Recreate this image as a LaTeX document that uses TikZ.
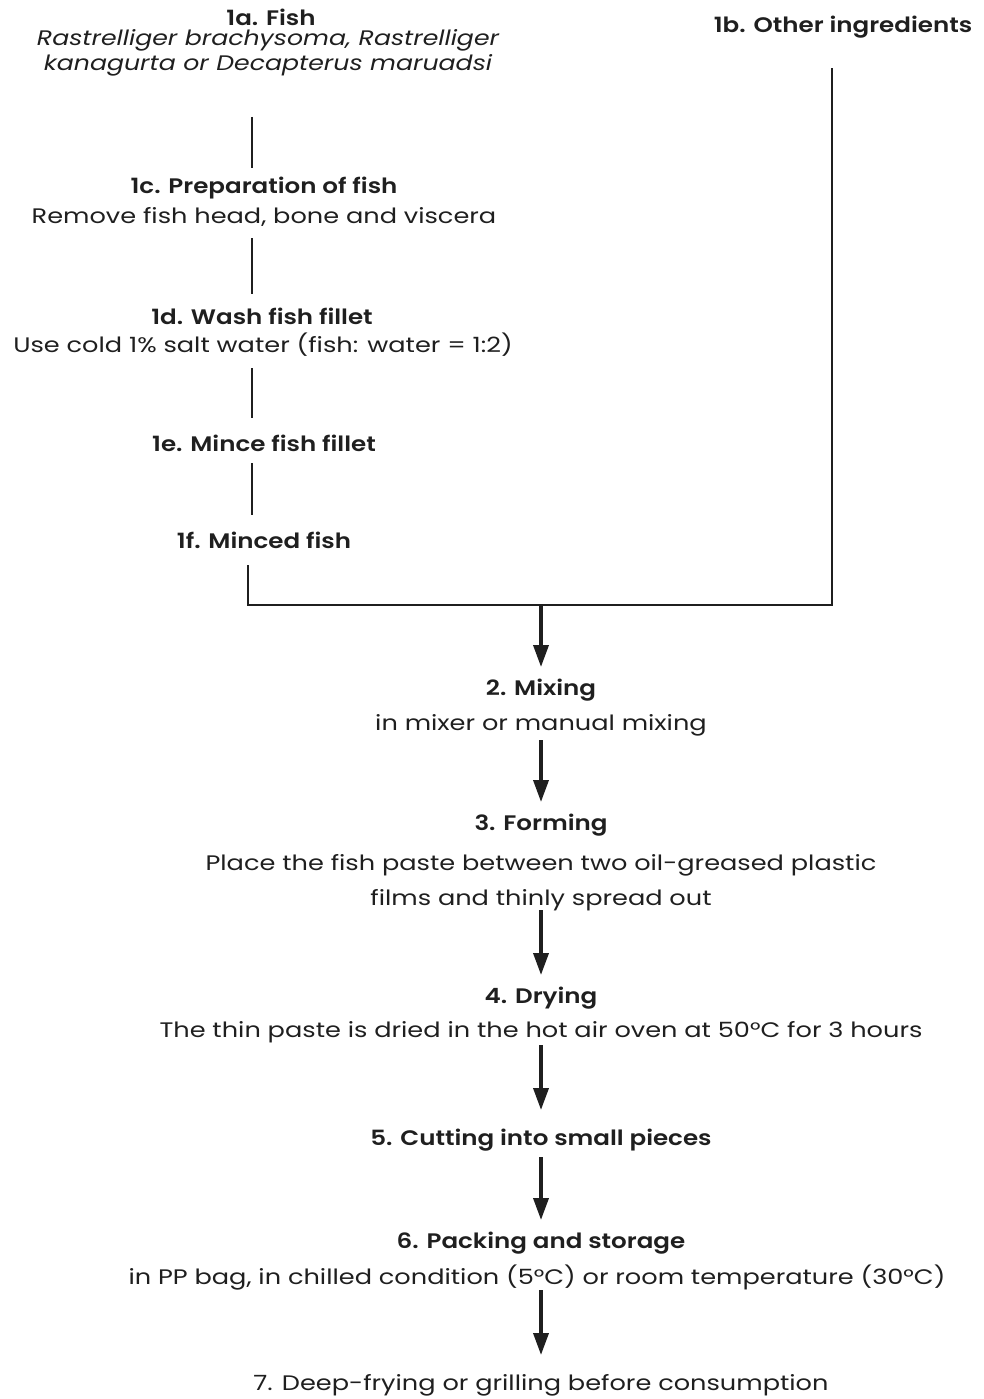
\documentclass[tikz,border=0pt]{standalone}
\usepackage{fontspec}
\setmainfont{Poppins}[
  UprightFeatures={FakeStretch=1.22},
  ItalicFeatures={FakeStretch=1.20},
  BoldFont={Poppins SemiBold},
  BoldFeatures={FakeStretch=1.17}]
\usetikzlibrary{arrows.meta}
\tikzset{
  title/.style={font=\fontsize{21}{25}\selectfont\bfseries, text=black!88, inner sep=0pt, anchor=center},
  body/.style={font=\fontsize{21}{25}\selectfont, text=black!88, inner sep=0pt, anchor=center, align=center},
  link/.style={line width=1.8pt, draw=black!88},
  flow/.style={line width=3.6pt, draw=black!88, -{Triangle[width=15pt,length=22pt]}},
}
\begin{document}
\begin{tikzpicture}[x=1pt,y=-1pt]
\useasboundingbox (0,0) rectangle (983,1399);
% raw material branch
\node[title] (t1a) at (271,17) {1a. Fish};
\node[body, font=\fontsize{21}{25}\selectfont\itshape] (d1a) at (268,53) {Rastrelliger brachysoma, Rastrelliger\\kanagurta or Decapterus maruadsi};
\node[title] (t1b) at (843,27) {1b. Other ingredients};
\node[title] (t1c) at (264,188) {1c. Preparation of fish};
\node[body] (d1c) at (264,217) {Remove fish head, bone and viscera};
\node[title] (t1d) at (262,316) {1d. Wash fish fillet};
\node[body] (d1d) at (263,345) {Use cold 1\% salt water (fish: water = 1:2)};
\node[title] (t1e) at (264,443) {1e. Mince fish fillet};
\node[title] (t1f) at (264,540) {1f. Minced fish};
% main process
\node[title] (t2) at (541,690) {2. Mixing};
\node[body] (d2) at (541,725) {in mixer or manual mixing};
\node[title] (t3) at (541,825) {3. Forming};
\node[body, font=\fontsize{21}{35}\selectfont] (d3) at (541,883) {Place the fish paste between two oil-greased plastic\\films and thinly spread out};
\node[title] (t4) at (541,998) {4. Drying};
\node[body] (d4) at (541,1032) {The thin paste is dried in the hot air oven at 50°C for 3 hours};
\node[title] (t5) at (541,1140) {5. Cutting into small pieces};
\node[title] (t6) at (541,1243) {6. Packing and storage};
\node[body] (d6) at (537,1278) {in PP bag, in chilled condition (5°C) or room temperature (30°C)};
\node[body] (t7) at (541,1385) {7. Deep-frying or grilling before consumption};
% connector end points
\coordinate (a1) at (252,117); \coordinate (a2) at (252,168);
\coordinate (c1) at (252,238); \coordinate (c2) at (252,294);
\coordinate (e1) at (252,368); \coordinate (e2) at (252,418);
\coordinate (f1) at (252,463); \coordinate (f2) at (252,515);
\coordinate (g1) at (248,565); \coordinate (g2) at (248,605);
\coordinate (h1) at (832,68);  \coordinate (h2) at (832,605);
\coordinate (m0) at (541,605); \coordinate (m1) at (541,667);
\coordinate (m2) at (541,740); \coordinate (m3) at (541,802);
\coordinate (m4) at (541,910); \coordinate (m5) at (541,975);
\coordinate (m6) at (541,1045); \coordinate (m7) at (541,1110);
\coordinate (m8) at (541,1157); \coordinate (m9) at (541,1220);
\coordinate (m10) at (541,1290); \coordinate (m11) at (541,1355);
\draw[link] (a1) -- (a2);
\draw[link] (c1) -- (c2);
\draw[link] (e1) -- (e2);
\draw[link] (f1) -- (f2);
\draw[link] (g1) -- (g2) -- (h2) -- (h1);
\draw[flow] (m0) -- (m1);
\draw[flow] (m2) -- (m3);
\draw[flow] (m4) -- (m5);
\draw[flow] (m6) -- (m7);
\draw[flow] (m8) -- (m9);
\draw[flow] (m10) -- (m11);
\end{tikzpicture}
\end{document}
